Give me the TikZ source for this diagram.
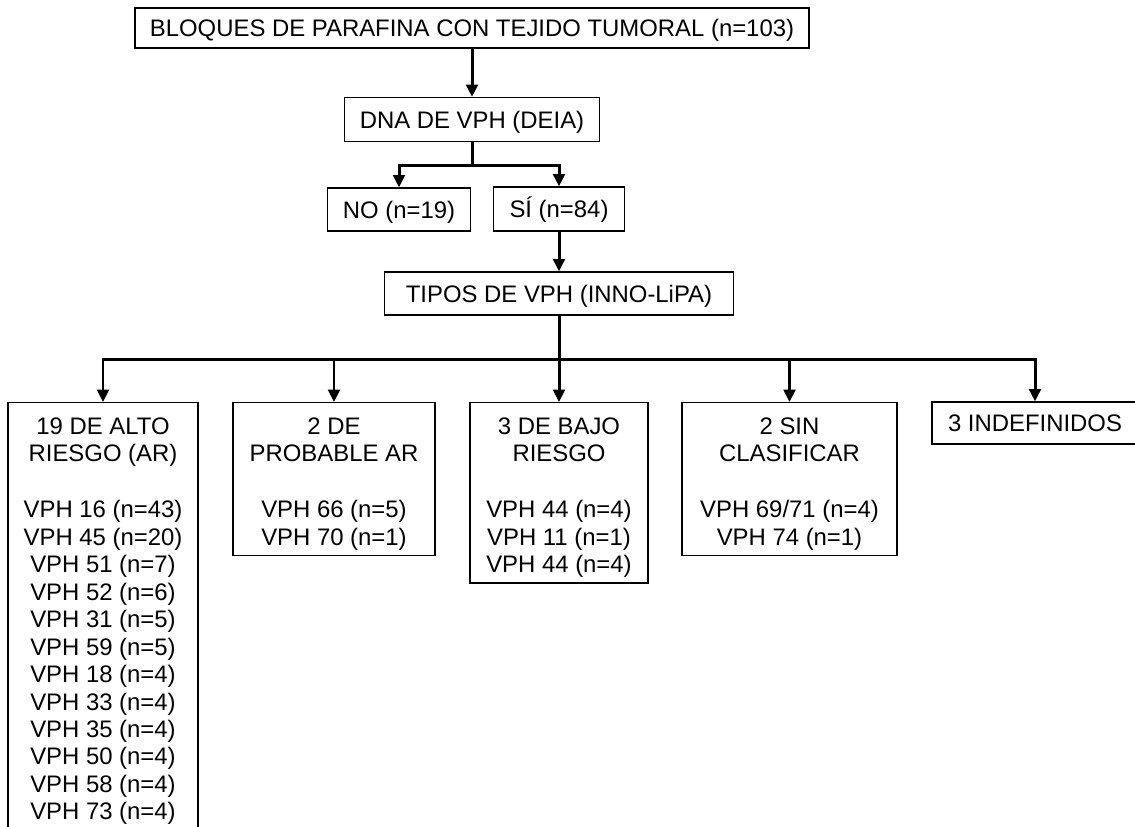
\documentclass[tikz,border=0pt]{standalone}
\usepackage{fontspec}
\setmainfont{Liberation Sans}
\usepackage{tikz}
\usetikzlibrary{arrows.meta, positioning}
\tikzstyle{line} = [draw, -{Triangle[length=7pt, width=6.6pt]}, line width=1.7pt]
\tikzstyle{caja} = [rectangle, draw, line width=0.7pt, text centered, inner sep=0pt, text height=9.74pt, text depth=0pt]
\tikzstyle{grupo} = [rectangle, draw, line width=0.7pt, align=center, anchor=north, inner xsep=0pt, inner ysep=3.1pt]
\newcommand{\primera}{\rule{0pt}{14.8pt}}

\begin{document}
\begin{tikzpicture}[x=0.02cm, y=-0.02cm, font=\fontsize{13.6}{15.64}\selectfont]
        \clip (0,0) rectangle (1135,826);
        \node [caja, minimum width=13.48cm, minimum height=0.8cm] (bloques) at (472,28) {BLOQUES DE PARAFINA CON TEJIDO TUMORAL (n=103)};
        \node [caja, minimum width=5.1cm, minimum height=0.88cm] (dna) at (472,119.5) {DNA DE VPH (DEIA)};
        \node [caja, minimum width=2.86cm, minimum height=0.86cm] (no) at (399,209.5) {NO (n=19)};
        \node [caja, minimum width=2.62cm, minimum height=0.88cm] (si) at (559,209) {SÍ (n=84)};
        \node [caja, minimum width=6.98cm, minimum height=0.86cm] (tipos) at (559,293.5) {TIPOS DE VPH (INNO-LiPA)};

        % grupos de tipos
        \node [grupo, minimum width=3.8cm] (alto) at (103,402) {\primera 19 DE ALTO\\RIESGO (AR)\\[16.3pt]VPH 16 (n=43)\\VPH 45 (n=20)\\VPH 51 (n=7)\\VPH 52 (n=6)\\VPH 31 (n=5)\\VPH 59 (n=5)\\VPH 18 (n=4)\\VPH 33 (n=4)\\VPH 35 (n=4)\\VPH 50 (n=4)\\VPH 58 (n=4)\\VPH 73 (n=4)\rule[-10mm]{0pt}{0pt}};
        \node [grupo, minimum width=4.04cm] (probable) at (334,402) {\primera 2 DE\\PROBABLE AR\\[16.3pt]VPH 66 (n=5)\\VPH 70 (n=1)};
        \node [grupo, minimum width=3.56cm] (bajo) at (559,402) {\primera 3 DE BAJO\\RIESGO\\[16.3pt]VPH 44 (n=4)\\VPH 11 (n=1)\\VPH 44 (n=4)};
        \node [grupo, minimum width=4.3cm] (sinclas) at (789.5,402) {\primera 2 SIN\\CLASIFICAR\\[16.3pt]VPH 69/71 (n=4)\\VPH 74 (n=1)};
        \node [caja, minimum width=4.12cm, minimum height=0.84cm] (indef) at (1035,423) {3 INDEFINIDOS};

        \coordinate (rama1) at (472,165);
        \coordinate (rama2) at (559,359);

        \path [line] (bloques) -- (dna);
        \draw [line width=1.7pt] (dna) -- (rama1);
        \path [line] (rama1) -| (no);
        \path [line] (rama1) -| (si);
        \path [line] (si) -- (tipos);
        \draw [line width=1.7pt] (tipos) -- (rama2);
        \foreach \g in {alto, probable, bajo, sinclas, indef}
            \path [line] (rama2) -| (\g);
    \end{tikzpicture}
\end{document}
